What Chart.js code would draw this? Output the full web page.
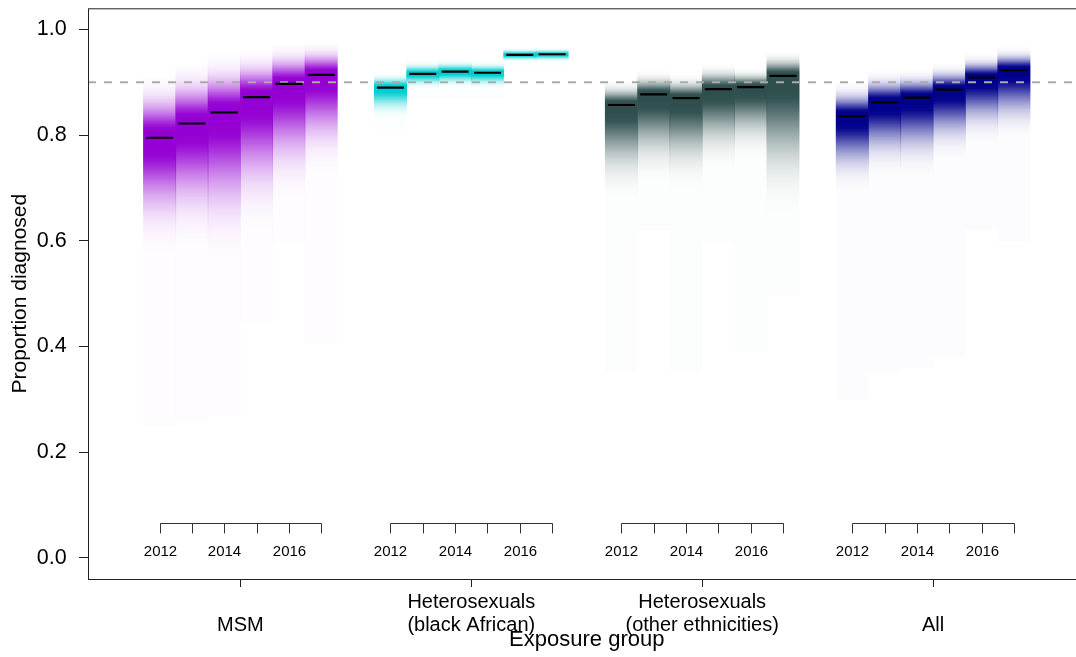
<!DOCTYPE html>
<html><head><meta charset="utf-8">
<script src="https://cdn.jsdelivr.net/npm/chart.js@4/dist/chart.umd.min.js"></script>
<style>html,body{margin:0;padding:0;background:#fff;overflow:hidden}#wrap{width:1100px;height:657px}</style>
</head><body><div id="wrap"><canvas id="c" width="1100" height="657"></canvas></div>
<script>
// ---- data ----
const groupLabels = [['', 'MSM'], ['Heterosexuals', '(black African)'], ['Heterosexuals', '(other ethnicities)'], ['', 'All']];
const years = [2012, 2013, 2014, 2015, 2016, 2017];
const yearLabels = ['2012', '', '2014', '', '2016', ''];
const yTicks = [0, 0.2, 0.4, 0.6, 0.8, 1.0];
const targetLevel = 0.9;
const groupColors = ['148,0,211', '0,206,209', '47,79,79', '0,0,139'];

const msmMedian = [0.795, 0.822, 0.843, 0.872, 0.897, 0.914];
const msmUpper  = [0.910, 0.933, 0.950, 0.960, 0.970, 0.975];
const msmLower  = [0.580, 0.590, 0.570, 0.625, 0.680, 0.730];
const msmTail   = [0.25, 0.26, 0.27, 0.45, 0.60, 0.41];

const hbaMedian = [0.890, 0.916, 0.920, 0.918, 0.952, 0.953];
const hbaUpper  = [0.918, 0.940, 0.942, 0.939, 0.965, 0.965];
const hbaLower  = [0.830, 0.887, 0.889, 0.887, 0.938, 0.938];
const hbaTail   = [0.81, 0.87, 0.87, 0.87, 0.92, 0.92];

const hotMedian = [0.857, 0.877, 0.870, 0.887, 0.891, 0.912];
const hotUpper  = [0.903, 0.921, 0.914, 0.934, 0.926, 0.958];
const hotLower  = [0.680, 0.710, 0.700, 0.735, 0.755, 0.655];
const hotTail   = [0.35, 0.62, 0.35, 0.60, 0.39, 0.50];

const allMedian = [0.836, 0.862, 0.871, 0.886, 0.909, 0.923];
const allUpper  = [0.898, 0.920, 0.922, 0.934, 0.952, 0.965];
const allLower  = [0.695, 0.725, 0.725, 0.755, 0.785, 0.795];
const allTail   = [0.30, 0.35, 0.36, 0.38, 0.62, 0.60];

// ---- layout / style ----
const FONT = '"Liberation Sans", Arial, Helvetica, sans-serif';
const xMin = 0.34, xMax = 4.66, yMin = -0.04, yMax = 1.04;
const yearStep = 0.14;
const yearAxisValue = 0.066;
const peakBoost = 1.1;

const medians = [msmMedian, hbaMedian, hotMedian, allMedian];
const uppers = [msmUpper, hbaUpper, hotUpper, allUpper];
const lowers = [msmLower, hbaLower, hotLower, allLower];
const tails = [msmTail, hbaTail, hotTail, allTail];
const xOf = (g, j) => g + 1 + (years[j] - 2014.5) * yearStep;

const barData = [], medData = [];
medians.forEach((arr, g) => arr.forEach((m, j) => {
  barData.push({x: xOf(g, j), y: [Math.min(tails[g][j], lowers[g][j]), uppers[g][j]]});
  medData.push({x: xOf(g, j), y: m});
}));

function strip(ctx) {
  if (ctx.type !== 'data') return 'transparent';
  const chart = ctx.chart, ys = chart.scales.y;
  if (!chart.chartArea || !ys) return 'transparent';
  const g = Math.floor(ctx.dataIndex / years.length), j = ctx.dataIndex % years.length;
  const col = groupColors[g];
  const med = medians[g][j], up = uppers[g][j], lo = lowers[g][j], tl = Math.min(tails[g][j], lo);
  const pTop = ys.getPixelForValue(up), pBot = ys.getPixelForValue(tl);
  const span = Math.max(1, pBot - pTop);
  const grad = chart.ctx.createLinearGradient(0, pTop, 0, pBot);
  const add = (v, a) => {
    const o = Math.min(1, Math.max(0, (ys.getPixelForValue(v) - pTop) / span));
    grad.addColorStop(o, 'rgba(' + col + ',' + Math.min(1, a).toFixed(4) + ')');
  };
  for (let k = -3; k <= 3.0001; k += 0.25) {
    const v = k < 0 ? med + (-k / 3) * (up - med) : med - (k / 3) * (med - lo);
    add(v, peakBoost * Math.exp(-k * k / 2));
  }
  if (tl < lo - 0.001) { add(lo - 0.0005, 0.01); add(tl, 0.01); }
  return grad;
}

const framePlugin = {
  id: 'frame',
  afterDatasetsDraw(chart) {
    const {ctx, chartArea: a, scales: {x, y}} = chart;
    ctx.save();
    ctx.strokeStyle = '#222'; ctx.lineWidth = 1;
    ctx.strokeRect(a.left + 0.5, a.top + 0.5, a.right - a.left, a.bottom - a.top);
    // year sub-axes
    const py = Math.round(y.getPixelForValue(yearAxisValue)) + 0.5;
    ctx.strokeStyle = '#333';
    ctx.fillStyle = '#000';
    ctx.font = '15px ' + FONT;
    ctx.textAlign = 'center'; ctx.textBaseline = 'middle';
    for (let g = 0; g < groupLabels.length; g++) {
      const xs = years.map((_, j) => Math.round(x.getPixelForValue(xOf(g, j))) + 0.5);
      ctx.beginPath();
      ctx.moveTo(xs[0], py); ctx.lineTo(xs[xs.length - 1], py);
      xs.forEach(px => { ctx.moveTo(px, py); ctx.lineTo(px, py + 10); });
      ctx.stroke();
      xs.forEach((px, j) => { if (yearLabels[j]) ctx.fillText(yearLabels[j], px, py + 28.5); });
    }
    ctx.restore();
  }
};

new Chart(document.getElementById('c'), {
  type: 'bar',
  data: {
    datasets: [
      {type: 'line', data: medData, showLine: false, pointStyle: 'line', pointRadius: 13.5,
       pointBorderWidth: 2.2, pointBorderColor: '#000', pointBackgroundColor: '#000', order: 0},
      {type: 'line', data: [{x: xMin, y: targetLevel}, {x: xMax, y: targetLevel}], borderColor: '#AAAAAA',
       borderWidth: 2, borderDash: [8, 8], pointRadius: 0, order: 1},
      {type: 'bar', data: barData, backgroundColor: strip, borderWidth: 0, barPercentage: 1,
       categoryPercentage: 1, grouped: false, order: 2}
    ]
  },
  options: {
    responsive: false, animation: false, events: [],
    layout: {autoPadding: false, padding: {top: 8.3, right: 14.5, left: 0, bottom: 0}},
    plugins: {legend: {display: false}, tooltip: {enabled: false}},
    scales: {
      x: {
        type: 'linear', min: xMin, max: xMax, offset: false,
        afterBuildTicks: s => { s.ticks = groupLabels.map((_, i) => ({value: i + 1})); },
        afterFit: s => { s.height = 78; s.paddingLeft = 0; s.paddingRight = 0; },
        ticks: {callback: (v, i) => groupLabels[i], font: {size: 20, family: FONT, lineHeight: 1.15},
                color: '#000', padding: 3.5, autoSkip: false, maxRotation: 0},
        grid: {drawOnChartArea: false, tickLength: 8, color: '#222', offset: false},
        border: {display: false},
        title: {display: true, text: 'Exposure group', color: '#000',
                font: {size: 22, family: FONT, lineHeight: 1.2}, padding: {top: 0, bottom: 3.8}}
      },
      y: {
        type: 'linear', min: yMin, max: yMax,
        afterBuildTicks: s => { s.ticks = yTicks.map(v => ({value: v})); },
        afterFit: s => { s.width = 88; s.paddingTop = 0; s.paddingBottom = 0; },
        ticks: {callback: v => Number(v).toFixed(1), font: {size: 21.5, family: FONT}, color: '#000', padding: 12.3},
        grid: {drawOnChartArea: false, tickLength: 9, color: '#222'},
        border: {display: false},
        title: {display: true, text: 'Proportion diagnosed', color: '#000',
                font: {size: 21, family: FONT, lineHeight: 1.2}, padding: {top: 7.4, bottom: 0}}
      }
    }
  },
  plugins: [framePlugin]
});
</script>
</body></html>
